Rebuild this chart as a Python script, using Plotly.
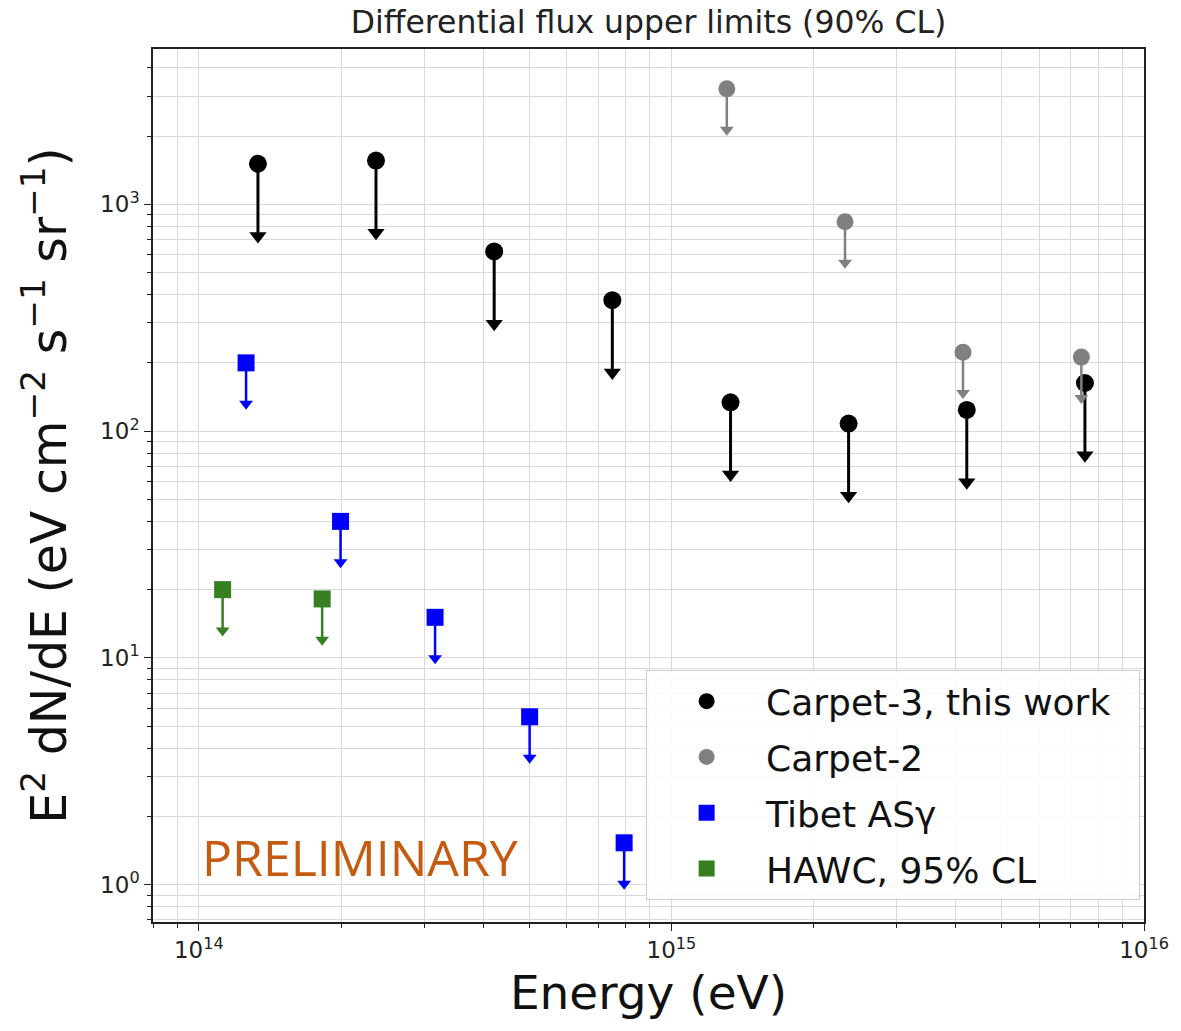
import numpy as np
import plotly.graph_objects as go

# ---------------- data ----------------
carpet3_E = [1.334e14, 2.371e14, 4.217e14, 7.499e14, 1.334e15, 2.371e15, 4.217e15, 7.499e15]
carpet3_UL = [1510, 1560, 620, 378, 134, 108, 124, 163]

carpet2_E = [1.31e15, 2.33e15, 4.14e15, 7.37e15]
carpet2_UL = [3230, 838, 223, 212]

tibet_E = [1.259e14, 1.995e14, 3.162e14, 5.012e14, 7.943e14]
tibet_UL = [200, 40, 15.1, 5.5, 1.53]

hawc_E = [1.123e14, 1.824e14]
hawc_UL = [20, 18.2]

series_names = ["Carpet-3, this work", "Carpet-2", "Tibet AS\u03b3", "HAWC, 95% CL"]

x_tickvals = [1e14, 1e15, 1e16]
x_ticktext = ["10<sup>14</sup>", "10<sup>15</sup>", "10<sup>16</sup>"]
y_tickvals = [1, 10, 100, 1000]
y_ticktext = ["10<sup>0</sup>", "10<sup>1</sup>", "10<sup>2</sup>", "10<sup>3</sup>"]

# ---------------- style ----------------
styles = [
    dict(color="#000000", symbol="circle", size=18, lw=3, head=15, factor=0.48),
    dict(color="#808080", symbol="circle", size=17, lw=2.5, head=12, factor=0.66),
    dict(color="#0000ff", symbol="square", size=17, lw=2.5, head=12, factor=0.66),
    dict(color="#378022", symbol="square", size=17, lw=2.5, head=12, factor=0.66),
]
datasets = [(carpet3_E, carpet3_UL), (carpet2_E, carpet2_UL), (tibet_E, tibet_UL), (hawc_E, hawc_UL)]

fig = go.Figure()
for i, ((E, UL), st, name) in enumerate(zip(datasets, styles, series_names)):
    UL = np.array(UL, dtype=float)
    tip = UL * st["factor"]
    legend_name = name + ("\u00a0\u00a0" if i == 0 else "")
    fig.add_trace(go.Scatter(
        x=E, y=UL, mode="markers", name=legend_name,
        legendgroup=f"g{i}",
        marker=dict(color=st["color"], symbol=st["symbol"], size=st["size"], line=dict(width=0)),
        error_y=dict(type="data", symmetric=False, array=np.zeros_like(UL),
                     arrayminus=UL - tip, width=0, thickness=st["lw"], color=st["color"]),
    ))
    fig.add_trace(go.Scatter(
        x=E, y=tip, mode="markers", showlegend=False, legendgroup=f"g{i}",
        marker=dict(color=st["color"], symbol="triangle-down", size=st["head"], line=dict(width=0)),
        hoverinfo="skip",
    ))

minor_vals = [k * 10.0 ** n for n in range(-1, 17) for k in range(2, 10)]
grid_col = "#d9d9d9"
axis_common = dict(
    type="log", showline=True, linecolor="#222", linewidth=1.5, mirror=True,
    ticks="outside", ticklen=7, tickwidth=1.2, tickcolor="#222",
    showgrid=True, gridcolor=grid_col, gridwidth=1, zeroline=False,
    tickfont=dict(family="DejaVu Sans", size=23, color="#222"),
    tickmode="array",
    minor=dict(tickmode="array", tickvals=minor_vals, ticks="outside", ticklen=4,
               tickwidth=1, tickcolor="#222", showgrid=True, gridcolor=grid_col, gridwidth=1),
)

fig.update_xaxes(**axis_common, range=[np.log10(8e13), 16],
                 tickvals=x_tickvals, ticktext=x_ticktext,
                 title=dict(text="Energy (eV)", font=dict(family="DejaVu Sans", size=47, color="#111"), standoff=14))
fig.update_yaxes(**axis_common, range=[-0.1645, 3.685],
                 tickvals=y_tickvals, ticktext=y_ticktext,
                 title=dict(text="E<sup>2</sup> dN/dE (eV cm<sup>\u22122</sup> s<sup>\u22121</sup> sr<sup>\u22121</sup>)",
                            font=dict(family="DejaVu Sans", size=49, color="#111"), standoff=18))

fig.add_annotation(text="PRELIMINARY", xref="paper", yref="paper", x=0.047, y=0.074,
                   xanchor="left", yanchor="middle", showarrow=False,
                   font=dict(family="Open Sans", size=50, color="#c55a11"))

fig.update_layout(
    width=1181, height=1031,
    margin=dict(l=153, r=31, t=49, b=109),
    paper_bgcolor="white", plot_bgcolor="white",
    title=dict(text="Differential flux upper limits (90% CL)", x=0.5, xref="paper",
               y=1 - 22 / 1031, yanchor="middle",
               font=dict(family="DejaVu Sans", size=31.5, color="#222")),
    legend=dict(x=0.4976, y=0.2884, xanchor="left", yanchor="top",
                bgcolor="rgba(255,255,255,0.85)", bordercolor="#cccccc", borderwidth=1,
                font=dict(family="DejaVu Sans", size=36, color="#111"),
                traceorder="grouped", tracegroupgap=6, itemwidth=109),
    showlegend=True,
)

fig.write_html("out.html")
